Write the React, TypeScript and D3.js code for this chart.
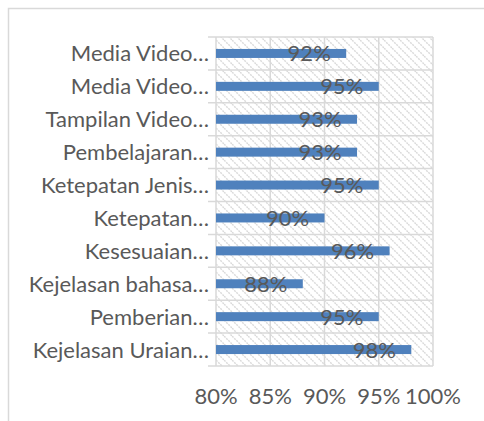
import React from "react";
import * as d3 from "d3";

const categories = [
  "Media Video…",
  "Media Video…",
  "Tampilan Video…",
  "Pembelajaran…",
  "Ketepatan Jenis…",
  "Ketepatan…",
  "Kesesuaian…",
  "Kejelasan bahasa…",
  "Pemberian…",
  "Kejelasan Uraian…",
];
const values = [92, 95, 93, 93, 95, 90, 96, 88, 95, 98];
const xTicks = [80, 85, 90, 95, 100];

const W = 484;
const H = 421;
const FONT = "Lato, 'Open Sans', sans-serif";
const TEXT = "#595959";
const GRID = "#d9d9d9";
const BAR = "#4f81bd";

export default function App() {
  const x = d3.scaleLinear().domain([80, 100]).range([216, 433]);
  const y = d3.scaleBand<number>().domain(d3.range(categories.length)).range([37, 366]).padding(0);
  const bw = y.bandwidth();
  const barH = 9;
  const fs = 22;

  return (
    <svg
      width={W}
      height={H}
      style={{ position: "absolute", left: 0, top: 0, background: "#fff" }}
      fontFamily={FONT}
    >
      <defs>
        <pattern id="hatch" width={8} height={8} patternUnits="userSpaceOnUse">
          <rect width={8} height={8} fill="#fff" />
          <path d="M-2,-2 L10,10 M-2,6 L2,10 M6,-2 L10,2" stroke="#dadada" strokeWidth={1.4} strokeDasharray="2 1" />
        </pattern>
      </defs>
      <rect x={0} y={0} width={W} height={H} fill="#fff" />
      {/* chart frame */}
      <rect x={8.5} y={8.5} width={W} height={H} fill="none" stroke={GRID} strokeWidth={1.5} />
      {/* plot area */}
      <rect x={x(80)} y={37} width={x(100) - x(80)} height={366 - 37} fill="url(#hatch)" />
      {/* vertical gridlines */}
      {xTicks.map((t) => (
        <line key={"v" + t} x1={x(t)} x2={x(t)} y1={37} y2={366} stroke={GRID} strokeWidth={1.5} />
      ))}
      {/* horizontal category lines with outside ticks */}
      {d3.range(categories.length + 1).map((i) => {
        const yy = 37 + i * bw;
        return <line key={"h" + i} x1={208} x2={x(100)} y1={yy} y2={yy} stroke={GRID} strokeWidth={1.5} />;
      })}
      {/* bars */}
      {values.map((v, i) => {
        const cy = (y(i) as number) + bw / 2;
        return (
          <rect key={"b" + i} x={x(80)} y={cy - barH / 2} width={x(v) - x(80)} height={barH} fill={BAR} />
        );
      })}
      {/* data labels */}
      {values.map((v, i) => {
        const cy = (y(i) as number) + bw / 2;
        return (
          <text key={"l" + i} x={x(v) - 37} y={cy + 8} textAnchor="middle" fontSize={fs} fill={TEXT}>
            {v}%
          </text>
        );
      })}
      {/* category labels */}
      {categories.map((c, i) => {
        const cy = (y(i) as number) + bw / 2;
        return (
          <text key={"c" + i} x={209} y={cy + 8} textAnchor="end" fontSize={fs} fill={TEXT}>
            {c}
          </text>
        );
      })}
      {/* x axis labels */}
      {xTicks.map((t) => (
        <text key={"x" + t} x={x(t)} y={404} textAnchor="middle" fontSize={fs} fill={TEXT}>
          {t}%
        </text>
      ))}
    </svg>
  );
}
